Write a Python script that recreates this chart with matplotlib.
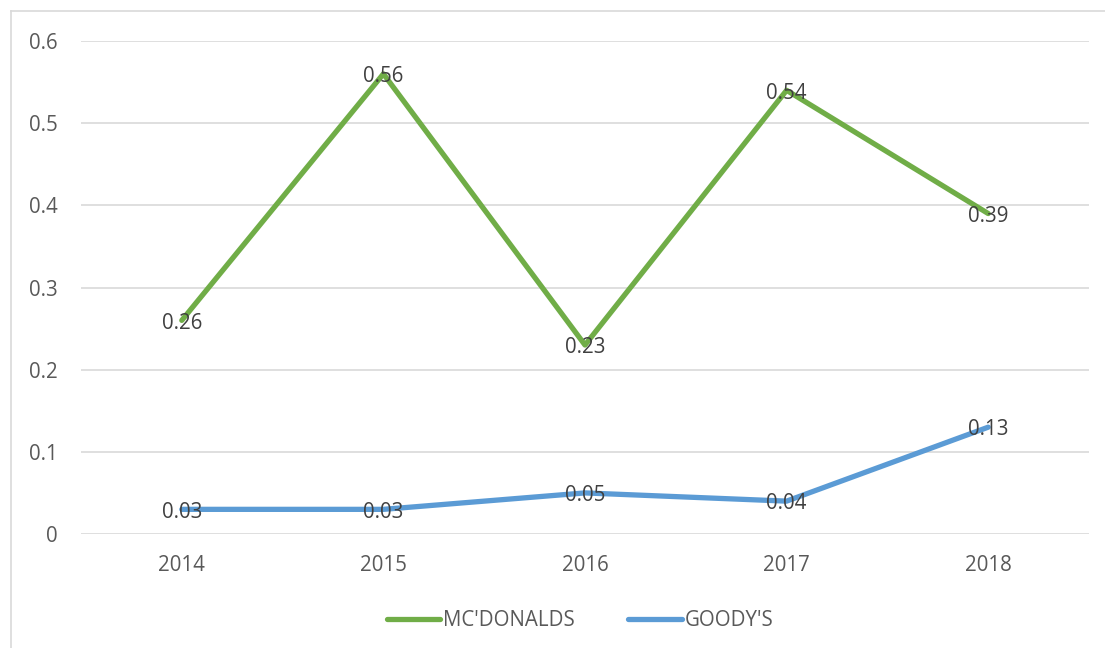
import matplotlib
matplotlib.use("Agg")
import matplotlib.pyplot as plt
from matplotlib.lines import Line2D
from matplotlib.transforms import offset_copy

years = ["2014", "2015", "2016", "2017", "2018"]
mcdonalds = [0.26, 0.56, 0.23, 0.54, 0.39]
goodys = [0.03, 0.03, 0.05, 0.04, 0.13]
series_names = ["MC'DONALDS", "GOODY'S"]
yticks = [0, 0.1, 0.2, 0.3, 0.4, 0.5, 0.6]

plt.rcParams['font.family'] = ['Open Sans', 'DejaVu Sans']
W, H = 1105, 648
fig = plt.figure(figsize=(W/100, H/100), dpi=100)
fig.patch.set_facecolor('white')

# plot area in pixel coords
x0, x1 = 81, 1089
ytop, ybot = 41, 534
ax = fig.add_axes([x0/W, 1 - ybot/H, (x1-x0)/W, (ybot-ytop)/H])
ax.set_xlim(-0.5, 4.5)
ax.set_ylim(0, 0.6)

text_color = '#595959'
green = '#70AD47'
blue = '#5B9BD5'
fs = 14.8
xs = list(range(len(years)))
ax.plot(xs, mcdonalds, color=green, lw=3.8, solid_capstyle='round', zorder=3)
ax.plot(xs, goodys, color=blue, lw=3.8, solid_capstyle='round', zorder=3)

lab_tr = offset_copy(ax.transData, fig=fig, x=0, y=-2, units='points')
for x, v in zip(xs, mcdonalds):
    ax.text(x, v, f"{v:g}", ha='center', va='center', fontsize=fs, color='#404040',
            zorder=4, transform=lab_tr)
for x, v in zip(xs, goodys):
    ax.text(x, v, f"{v:g}", ha='center', va='center', fontsize=fs, color='#404040',
            zorder=4, transform=lab_tr)

ax.set_yticks(yticks)
ax.set_yticklabels([f"{t:g}" for t in yticks])
ax.set_xticks(xs)
ax.set_xticklabels(years)
ax.tick_params(axis='both', length=0, labelsize=fs, labelcolor=text_color)
ax.tick_params(axis='y', pad=16.5)
ax.tick_params(axis='x', pad=15)
ax.grid(axis='y', color='#D9D9D9', lw=1.2)
ax.set_axisbelow(True)
for s in ax.spines.values():
    s.set_visible(False)

handles = [Line2D([], [], color=green, lw=3.8, solid_capstyle='round'),
           Line2D([], [], color=blue, lw=3.8, solid_capstyle='round')]
fig.legend(handles, series_names, loc='center', bbox_to_anchor=(580/W, 1 - 621/H),
           ncol=2, frameon=False, fontsize=fs, labelcolor=text_color,
           handlelength=2.6, handletextpad=0.15, columnspacing=2.6)

# chart border (top and left visible)
fig.add_artist(Line2D([11/W, 11/W], [0, 1 - 11/H], color='#D9D9D9', lw=1.2, transform=fig.transFigure))
fig.add_artist(Line2D([11/W, 1], [1 - 11/H, 1 - 11/H], color='#D9D9D9', lw=1.2, transform=fig.transFigure))

fig.savefig("out.png", dpi=100, facecolor='white')
